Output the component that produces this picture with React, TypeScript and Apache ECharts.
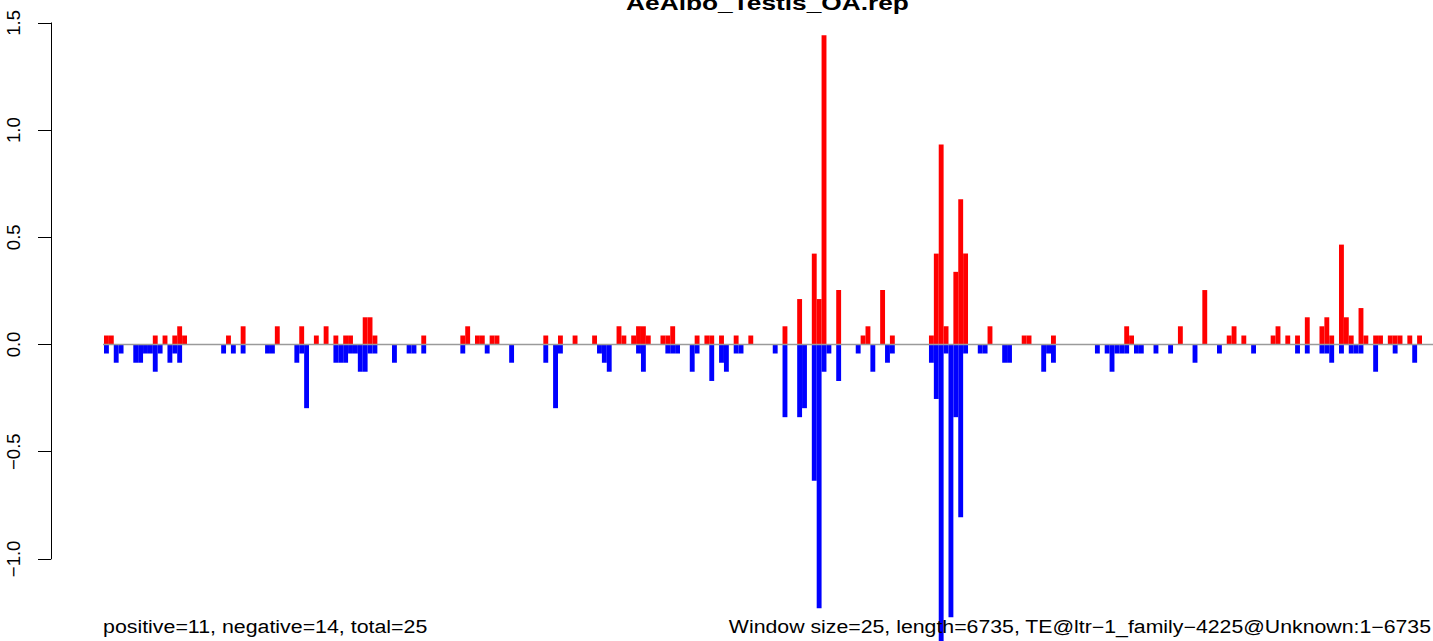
import React, { useEffect, useRef } from "react";
import * as echarts from "echarts";

// ---- data ----
const N_WINDOWS = 270;
const windowIds: string[] = Array.from({ length: N_WINDOWS }, (_, i) => String(i + 1));

// positive (red) windows: index and value
const posIdx = [0, 1, 10, 12, 14, 15, 16, 25, 28, 35, 40, 43, 45, 47, 49, 50, 53, 54, 55, 65, 73, 74, 76, 77, 79, 80,
  90, 93, 96, 100, 105, 106, 108, 109, 110, 111, 114, 115, 116, 121, 123, 124, 126, 129, 132,
  139, 142, 145, 146, 147, 150, 155, 156, 159, 161, 169, 170, 171, 172, 174, 175, 176,
  181, 188, 189, 194, 209, 210, 220, 225, 230, 231, 233, 239, 240, 242, 244, 246, 249, 250, 251,
  253, 254, 255, 257, 258, 260, 261, 263, 264, 265, 267, 269];
const posVal = [0.042, 0.042, 0.042, 0.042, 0.042, 0.085, 0.042, 0.042, 0.085, 0.085, 0.085, 0.042, 0.085, 0.042, 0.042, 0.042, 0.127, 0.127, 0.042, 0.042, 0.042, 0.085, 0.042, 0.042, 0.042, 0.042,
  0.042, 0.042, 0.042, 0.042, 0.085, 0.042, 0.042, 0.085, 0.085, 0.042, 0.042, 0.042, 0.085, 0.042, 0.042, 0.042, 0.042, 0.042, 0.042,
  0.085, 0.212, 0.424, 0.212, 1.442, 0.254, 0.042, 0.085, 0.254, 0.042, 0.042, 0.424, 0.933, 0.085, 0.339, 0.678, 0.424,
  0.085, 0.042, 0.042, 0.042, 0.085, 0.042, 0.085, 0.254, 0.042, 0.085, 0.042, 0.042, 0.085, 0.042, 0.042, 0.127, 0.085, 0.127, 0.042,
  0.466, 0.127, 0.042, 0.170, 0.042, 0.042, 0.042, 0.042, 0.042, 0.042, 0.042, 0.042];

// negative (blue) windows: index and value
const negIdx = [0, 2, 3, 6, 7, 8, 9, 10, 11, 13, 14, 15, 24, 26, 28, 33, 34, 39, 40, 41, 47, 48, 49, 50, 51, 52, 53, 54, 55,
  59, 62, 63, 65, 73, 78, 83, 90, 92, 93, 101, 102, 103, 109, 110, 115, 116, 117, 120, 121, 124, 126, 127, 129, 130,
  137, 139, 142, 143, 145, 146, 147, 148, 150, 154, 157, 160, 161, 169, 170, 171, 172, 173, 174, 175, 176, 179, 180,
  184, 185, 192, 193, 194, 203, 205, 206, 207, 208, 209, 211, 212, 215, 218, 223, 228, 235, 244, 246, 249, 250, 251,
  253, 255, 256, 257, 260, 264, 268];
const negVal = [-0.042, -0.085, -0.042, -0.085, -0.085, -0.042, -0.042, -0.127, -0.042, -0.085, -0.042, -0.085, -0.042, -0.042, -0.042, -0.042, -0.042, -0.085, -0.042, -0.297, -0.085, -0.085, -0.085, -0.042, -0.042, -0.127, -0.127, -0.042, -0.042,
  -0.085, -0.042, -0.042, -0.042, -0.042, -0.042, -0.085, -0.085, -0.297, -0.042, -0.042, -0.085, -0.127, -0.042, -0.127, -0.042, -0.042, -0.042, -0.127, -0.042, -0.170, -0.085, -0.127, -0.042, -0.042,
  -0.042, -0.339, -0.339, -0.297, -0.636, -1.230, -0.127, -0.042, -0.170, -0.042, -0.127, -0.085, -0.042, -0.085, -0.254, -1.399, -0.042, -1.272, -0.339, -0.806, -0.042, -0.042, -0.042,
  -0.085, -0.085, -0.127, -0.042, -0.085, -0.042, -0.042, -0.127, -0.042, -0.042, -0.042, -0.042, -0.042, -0.042, -0.042, -0.085, -0.042, -0.042, -0.042, -0.042, -0.042, -0.042, -0.085,
  -0.042, -0.042, -0.042, -0.042, -0.127, -0.042, -0.085];

const yTickMin = -1.0;
const yTickMax = 1.5;
const yTickStep = 0.5;

const titleText = "AeAlbo_Testis_OA.rep";
const leftNote = "positive=11, negative=14, total=25";
const rightNote = "Window size=25, length=6735, TE@ltr\u22121_family\u22124225@Unknown:1\u22126735";

function fill(idx: number[], val: number[]): (number | null)[] {
  const out: (number | null)[] = new Array(N_WINDOWS).fill(null);
  idx.forEach((k, j) => { out[k] = val[j]; });
  return out;
}

const FONT = "'Liberation Sans', Arial, Helvetica, sans-serif";

export default function App() {
  const ref = useRef<HTMLDivElement>(null);
  useEffect(() => {
    if (!ref.current) return;
    const chart = echarts.init(ref.current, undefined, { renderer: "svg" });
    const option: any = {
      animation: false,
      backgroundColor: "#ffffff",
      grid: [
        { left: 104, right: 11, top: 0, bottom: 0 },
        { left: 51, width: 10, top: 22.9, height: 536 },
      ],
      xAxis: [
        { type: "category", gridIndex: 0, data: windowIds, show: false },
        { type: "value", gridIndex: 1, show: false, min: 0, max: 1 },
      ],
      yAxis: [
        { type: "value", gridIndex: 0, min: -1.383, max: 1.607, show: false },
        {
          type: "value",
          gridIndex: 1,
          min: yTickMin,
          max: yTickMax,
          interval: yTickStep,
          position: "left",
          axisLine: { show: true, lineStyle: { color: "#000", width: 1 } },
          axisTick: { show: true, length: 13, inside: false, lineStyle: { color: "#000", width: 1 } },
          splitLine: { show: false },
          axisLabel: {
            show: true,
            rotate: 90,
            margin: 28,
            fontSize: 18.5,
            fontFamily: FONT,
            color: "#000",
            formatter: (v: number) => v.toFixed(1).replace("-", "\u2212"),
          },
        },
      ],
      series: [
        {
          type: "bar",
          xAxisIndex: 0,
          yAxisIndex: 0,
          data: fill(posIdx, posVal),
          barWidth: "100%",
          barGap: "-100%",
          itemStyle: { color: "#FF0000" },
        },
        {
          type: "bar",
          xAxisIndex: 0,
          yAxisIndex: 0,
          data: fill(negIdx, negVal),
          barWidth: "100%",
          barGap: "-100%",
          itemStyle: { color: "#0000FF" },
        },
      ],
    };
    chart.setOption(option);
    const y0 = chart.convertToPixel({ yAxisIndex: 0 }, 0) as number;
    chart.setOption({
      graphic: [
        {
          type: "line",
          id: "zero",
          z: 100,
          shape: { x1: 103, y1: y0, x2: 1433, y2: y0 },
          style: { stroke: "#9a9a9a", lineWidth: 1.6 },
        },
        {
          type: "text",
          id: "title",
          x: 767.5,
          y: 2.5,
          scaleX: 1.246,
          z: 100,
          style: { text: titleText, fontSize: 21.1, fontWeight: "bold", fontFamily: FONT, fill: "#000", align: "center", verticalAlign: "middle" },
        },
        {
          type: "text",
          id: "left",
          x: 103,
          y: 626.9,
          scaleX: 1.214,
          z: 100,
          style: { text: leftNote, fontSize: 17.6, fontFamily: FONT, fill: "#000", align: "left", verticalAlign: "middle" },
        },
        {
          type: "text",
          id: "right",
          x: 1431,
          y: 626.9,
          scaleX: 1.21,
          z: 100,
          style: { text: rightNote, fontSize: 17.6, fontFamily: FONT, fill: "#000", align: "right", verticalAlign: "middle" },
        },
      ],
    });
    return () => chart.dispose();
  }, []);
  return (
    <div
      ref={ref}
      style={{ position: "fixed", left: 0, top: 0, width: 1433, height: 641, background: "#fff" }}
    />
  );
}
